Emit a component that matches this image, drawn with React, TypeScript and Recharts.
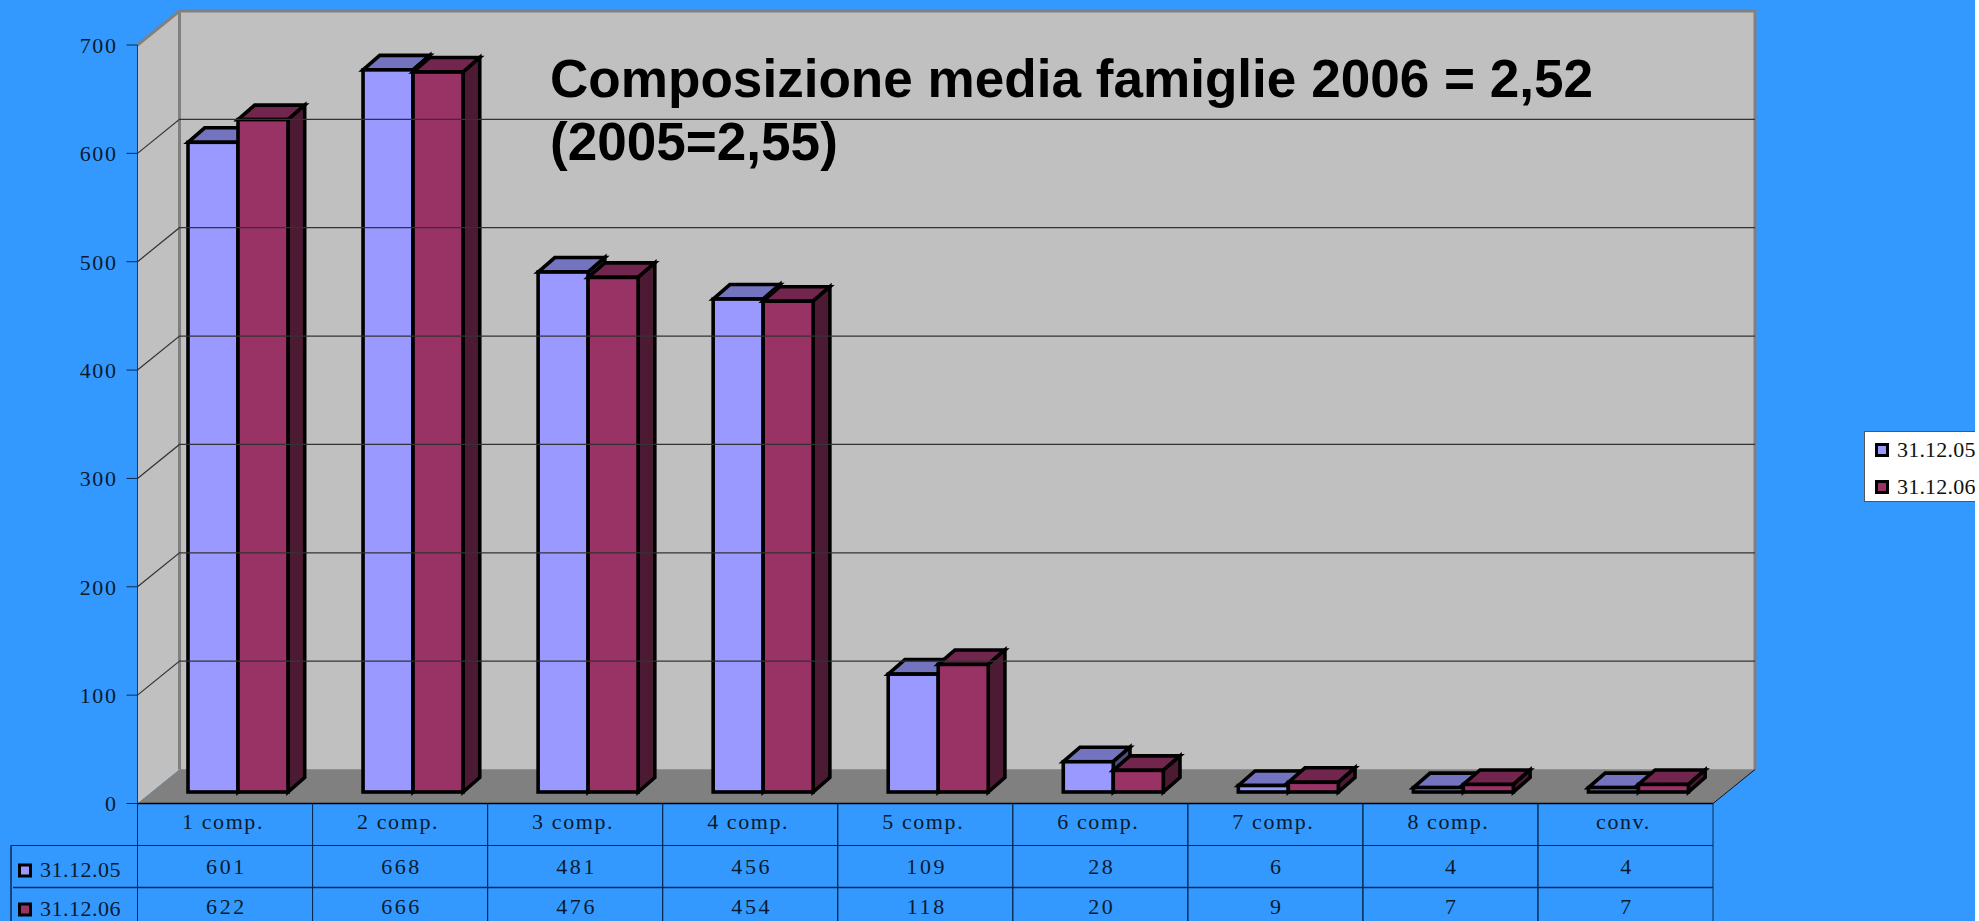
import { Bar, BarChart, Legend, ReferenceArea, ReferenceLine, XAxis, YAxis } from "recharts";

const categories = ["1 comp.", "2 comp.", "3 comp.", "4 comp.", "5 comp.", "6 comp.", "7 comp.", "8 comp.", "conv."];
const values05 = [601, 668, 481, 456, 109, 28, 6, 4, 4];
const values06 = [622, 666, 476, 454, 118, 20, 9, 7, 7];
const yTicks = [0, 100, 200, 300, 400, 500, 600, 700];
const gridTicks = [100, 200, 300, 400, 500, 600];
const seriesNames = ["31.12.05", "31.12.06"];
const titleLines = ["Composizione media famiglie 2006 = 2,52", "(2005=2,55)"];

const rows = categories.map((name, i) => ({ name, a: values05[i], b: values06[i] }));

const W = 1975;
const H = 921;
const LEFT = 137.5;
const RIGHT = 1713;
const TOP = 45;
const BOTTOM = 803.5;
const DX = 42;
const DY = -34;
const CELL = (RIGHT - LEFT) / categories.length;
const ROW1 = 845.5;
const ROW2 = 887.5;
const serif = "'Liberation Serif', serif";
const ink = "#0b1a2e";
const line = "#0a2a50";

// front face + top + side, pushed back into the floor a bit
function bar3d(top: string, side: string) {
  return (p: any) => {
    const x = p.x + 12.5;
    const { y, width: w, height: h, fill } = p;
    const dx = 16.7;
    const dy = -14.5;
    return (
      <g stroke="#000" strokeWidth={3.6} strokeLinejoin="miter">
        <polygon points={`${x},${y} ${x + dx},${y + dy} ${x + w + dx},${y + dy} ${x + w},${y}`} fill={top} />
        <polygon points={`${x + w},${y} ${x + w + dx},${y + dy} ${x + w + dx},${y + h + dy} ${x + w},${y + h}`} fill={side} />
        <rect x={x} y={y} width={w} height={h} fill={fill} />
      </g>
    );
  };
}

function Room(p: any) {
  const { x, y, width: w, height: h } = p;
  const b = y + h;
  const r = x + w;
  return (
    <g>
      <polygon points={`${x + DX},${y + DY} ${r + DX},${y + DY} ${r + DX},${b + DY} ${x + DX},${b + DY}`} fill="#c0c0c0" />
      <polygon points={`${x},${y} ${x + DX},${y + DY} ${x + DX},${b + DY} ${x},${b}`} fill="#c0c0c0" />
      <polygon points={`${x},${b} ${x + DX},${b + DY} ${r + DX},${b + DY} ${r},${b}`} fill="#808080" />
      <polyline points={`${x},${y} ${x + DX},${y + DY} ${r + DX},${y + DY} ${r + DX},${b + DY}`} fill="none" stroke="#808080" strokeWidth={3} />
      <line x1={x + DX} y1={y + DY} x2={x + DX} y2={b + DY} stroke="#808080" strokeWidth={3} />
      <line x1={r} y1={b} x2={r + DX} y2={b + DY} stroke="#111" strokeWidth={1} />
    </g>
  );
}

function WallLine(p: any) {
  const { x1, y1, x2 } = p;
  return (
    <polyline
      points={`${x1},${y1} ${x1 + DX},${y1 + DY} ${x2 + DX},${y1 + DY}`}
      fill="none"
      stroke="#333"
      strokeWidth={1.2}
    />
  );
}

function TableTick(p: any) {
  const { x, payload, index } = p;
  const l = x - CELL / 2;
  const texts = [
    { t: values05[index], y: 874 },
    { t: values06[index], y: 914 },
  ];
  return (
    <g>
      <line x1={l} y1={BOTTOM} x2={l} y2={H} stroke={line} />
      <line x1={l + CELL} y1={BOTTOM} x2={l + CELL} y2={H} stroke={line} />
      <line x1={l} y1={ROW1} x2={l + CELL} y2={ROW1} stroke={line} />
      <line x1={l} y1={ROW2} x2={l + CELL} y2={ROW2} stroke={line} strokeWidth={1.5} />
      <text x={x - 2} y={829} textAnchor="middle" fontFamily={serif} fontSize={22} letterSpacing={1.6} fill={ink}>
        {payload.value}
      </text>
      {texts.map((c) => (
        <text key={c.y} x={x + 1.5} y={c.y} textAnchor="middle" fontFamily={serif} fontSize={22} letterSpacing={2.6} fill={ink}>
          {c.t}
        </text>
      ))}
    </g>
  );
}

function LegendBox({ payload }: any) {
  return (
    <div style={{ background: "#fff", border: "1px solid #555", borderRight: "none", height: 71, width: 130, boxSizing: "border-box", position: "relative" }}>
      {(payload || []).map((e: any, i: number) => (
        <div key={e.value} style={{ position: "absolute", left: 10, top: 11 + i * 36.5, display: "flex", alignItems: "center", height: 14 }}>
          <span style={{ width: 8, height: 8, background: e.color, border: "3px solid #000", display: "inline-block" }} />
          <span style={{ marginLeft: 8, fontFamily: serif, fontSize: 22, letterSpacing: 0.2, color: "#111", whiteSpace: "nowrap" }}>{e.value}</span>
        </div>
      ))}
    </div>
  );
}

export default function App() {
  return (
    <div style={{ position: "absolute", left: 0, top: 0, width: W, height: H, background: "#3399ff", overflow: "hidden" }}>
      <BarChart
        width={W}
        height={H}
        data={rows}
        margin={{ top: TOP, right: W - RIGHT, bottom: 0, left: 0 }}
        barGap={0}
        barSize={50}
      >
        <XAxis dataKey="name" height={H - BOTTOM} interval={0} tick={TableTick} tickLine={false} axisLine={{ stroke: "#000", strokeWidth: 1.5 }} />
        <YAxis
          yAxisId="front"
          width={LEFT}
          domain={[0, 700]}
          allowDataOverflow
          ticks={yTicks}
          tickSize={11}
          tickMargin={9}
          tickLine={{ stroke: line }}
          axisLine={{ stroke: "#333" }}
          tick={{ fill: ink, fontFamily: serif, fontSize: 22, letterSpacing: 1.6 }}
        />
        <YAxis yAxisId="bars" orientation="right" hide domain={[-10.64, 691]} allowDataOverflow />
        <ReferenceArea yAxisId="front" y1={0} y2={700} shape={Room} />
        {gridTicks.map((t) => (
          <ReferenceLine key={t} yAxisId="front" y={t} shape={WallLine} />
        ))}
        <Bar yAxisId="bars" dataKey="a" name={seriesNames[0]} fill="#9999ff" shape={bar3d("#7373bf", "#4d4d80")} isAnimationActive={false} />
        <Bar yAxisId="bars" dataKey="b" name={seriesNames[1]} fill="#993366" shape={bar3d("#73264d", "#4d1a33")} isAnimationActive={false} />
        <Legend
          layout="vertical"
          align="center"
          verticalAlign="middle"
          content={LegendBox}
          wrapperStyle={{ left: 1864, top: 431, width: 130, height: 71 }}
        />
      </BarChart>
      <svg width={W} height={H} style={{ position: "absolute", left: 0, top: 0, pointerEvents: "none" }}>
        {titleLines.map((t, i) => (
          <text key={t} x={550} y={96.5 + i * 63} fontFamily="'Liberation Sans', sans-serif" fontWeight={700} fontSize={53.1} fill="#000">
            {t}
          </text>
        ))}
        <line x1={11} y1={ROW1} x2={LEFT} y2={ROW1} stroke={line} />
        <line x1={13} y1={ROW2} x2={LEFT} y2={ROW2} stroke={line} strokeWidth={1.5} />
        <line x1={11} y1={ROW1} x2={11} y2={H} stroke={line} strokeWidth={1.5} />
        {seriesNames.map((s, i) => (
          <g key={s}>
            <rect x={19.5} y={[865, 904][i]} width={11} height={11} fill={["#9999ff", "#993366"][i]} stroke="#000" strokeWidth={3} />
            <text x={40} y={[877, 916][i]} fontFamily={serif} fontSize={22} letterSpacing={0.5} fill={ink}>
              {s}
            </text>
          </g>
        ))}
      </svg>
    </div>
  );
}
